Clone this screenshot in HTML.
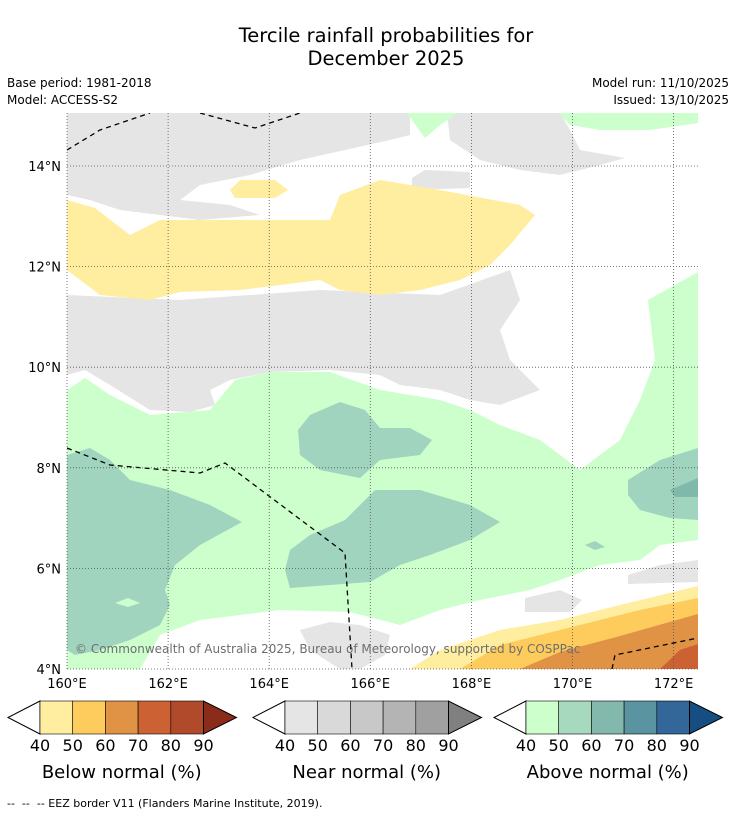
<!DOCTYPE html>
<html><head><meta charset="utf-8">
<style>
body{margin:0;background:#fff;font-family:"Liberation Sans",sans-serif;}
svg text{font-family:"DejaVu Sans","Liberation Sans",sans-serif;}
</style></head>
<body>
<svg id="c" width="736" height="816" xmlns="http://www.w3.org/2000/svg">
<rect width="736" height="816" fill="#fff"/>
<text x="386" y="42" text-anchor="middle" font-size="19.5">Tercile rainfall probabilities for</text>
<text x="386" y="65" text-anchor="middle" font-size="19.5">December 2025</text>
<text x="7" y="87" font-size="12">Base period: 1981-2018</text>
<text x="7" y="104" font-size="12">Model: ACCESS-S2</text>
<text x="729" y="87" font-size="12" text-anchor="end">Model run: 11/10/2025</text>
<text x="729" y="104" font-size="12" text-anchor="end">Issued: 13/10/2025</text>
<defs><clipPath id="mc"><rect x="67" y="113" width="631" height="556"/></clipPath></defs>
<g id="map" clip-path="url(#mc)"></g>
<g id="axes"></g>
<g id="cbars"></g>
<text x="7" y="807" font-size="11" style="white-space:pre">--  --  -- EEZ border V11 (Flanders Marine Institute, 2019).</text>
</svg>
<script>
const lonTicks=[160,162,164,166,168,170,172];
const latTicks=[4,6,8,10,12,14];
const cbLabels=[40,50,60,70,80,90];
const belowColors=["#ffeda0","#fecc5c","#e09245","#cc6233","#b04a2a","#8b2c1a"];
const nearColors=["#e5e5e5","#d9d9d9","#c8c8c8","#b4b4b4","#a0a0a0","#808080"];
const aboveColors=["#ccffcc","#a6d9bd","#83b9ad","#5a94a0","#336699","#174e82"];
const cbTitles=["Below normal (%)","Near normal (%)","Above normal (%)"];
function X(lon){return 67+(lon-160)*50.55;}
function Y(lat){return 669-(lat-4)*50.3;}
const NS="http://www.w3.org/2000/svg";
const map=document.getElementById('map'),axes=document.getElementById('axes'),cb=document.getElementById('cbars');
function poly(parent,pts,fill,name){const p=document.createElementNS(NS,'polygon');p.setAttribute('points',pts.map(a=>a.join(',')).join(' '));p.setAttribute('fill',fill);


parent.appendChild(p);return p;}
const shapes=[
["#ccffcc","above-40-main",[[67,390],[85,378],[110,395],[150,415],[210,410],[235,380],[270,372],[330,372],[380,390],[440,400],[470,410],[500,425],[540,440],[580,470],[620,440],[640,400],[655,360],[648,300],[698,272],[698,540],[660,545],[640,560],[600,565],[560,580],[530,590],[480,600],[440,610],[400,625],[380,640],[380,669],[67,669]]],
["#ffffff","white-bottom",[[140,669],[160,635],[200,620],[280,610],[350,612],[400,625],[420,640],[410,669]]],
["#ffffff","white-right",[[560,582],[620,568],[698,548],[698,592],[640,602],[600,612],[560,615]]],
["#e5e5e5","near-top",[[67,113],[410,113],[410,135],[390,140],[300,160],[250,175],[200,185],[180,200],[230,205],[260,215],[200,220],[160,215],[120,210],[90,200],[67,195]]],
["#e5e5e5","near-top-right",[[447,113],[560,113],[570,130],[580,150],[625,158],[600,165],[560,175],[520,170],[480,160],[450,140]]],
["#e5e5e5","near-small",[[412,178],[425,170],[470,172],[470,188],[412,190]]],
["#e5e5e5","near-middle",[[67,295],[180,300],[320,290],[440,295],[510,270],[520,300],[500,330],[510,360],[540,390],[500,405],[470,400],[440,390],[400,385],[380,375],[330,370],[270,372],[230,380],[210,390],[215,405],[190,412],[150,410],[110,385],[85,370],[67,375]]],
["#e5e5e5","near-bottom",[[300,630],[330,622],[360,625],[390,635],[385,655],[360,669],[340,669],[310,650]]],
["#e5e5e5","near-right-1",[[525,598],[560,590],[582,600],[570,612],[525,612]]],
["#e5e5e5","near-right-2",[[628,575],[660,565],[698,560],[698,582],[628,584]]],
["#ccffcc","above-top-1",[[407,113],[458,113],[440,125],[425,138]]],
["#ccffcc","above-top-2",[[558,113],[698,113],[698,123],[650,130],[600,130],[570,125]]],
["#ffeda0","below-40",[[67,200],[95,208],[130,235],[160,220],[330,220],[340,195],[380,180],[440,190],[520,205],[535,215],[510,245],[490,265],[460,280],[420,290],[380,295],[340,290],[320,280],[240,290],[180,292],[150,300],[100,295],[67,270]]],
["#ffeda0","below-40-small",[[230,190],[240,180],[275,180],[288,190],[275,198],[235,198]]],
["#ffeda0","below-40-bottom",[[410,669],[440,650],[500,630],[560,620],[620,605],[698,586],[698,669]]],
["#fecc5c","below-50",[[460,669],[500,645],[560,630],[640,610],[698,598],[698,669]]],
["#e09245","below-60",[[520,669],[560,652],[620,636],[698,614],[698,669]]],
["#cc6233","below-70",[[660,669],[680,650],[698,644],[698,669]]],
["#a0d4be","above-50-left",[[67,455],[90,448],[110,460],[130,480],[170,490],[210,505],[242,522],[200,545],[175,565],[165,590],[170,605],[160,625],[130,640],[100,650],[75,655],[67,650]]],
["#a0d4be","above-50-center",[[298,430],[310,415],[340,402],[365,410],[380,428],[410,428],[432,440],[420,455],[380,460],[360,478],[320,470],[300,455]]],
["#a0d4be","above-50-south",[[290,550],[310,535],[345,520],[375,490],[420,490],[470,505],[500,522],[470,540],[430,555],[400,565],[370,582],[330,585],[290,588],[285,570]]],
["#a0d4be","above-50-east",[[628,480],[660,460],[698,448],[698,520],[670,518],[640,510],[628,495]]],
["#a0d4be","above-50-tiny",[[585,545],[595,541],[605,547],[595,550]]],
["#80b8aa","above-60-east",[[670,490],[698,478],[698,497],[675,497]]],
["#ccffcc","above-40-patch",[[115,603],[128,598],[140,603],[128,607]]],
];
shapes.forEach(s=>poly(map,s[2],s[0],s[1]));
const eez=[[[67,150],[100,130],[150,113]],[[200,113],[255,128],[300,113]],[[67,448],[110,465],[200,473],[225,463],[345,553],[352,669]],[[612,669],[615,655],[698,638]]];
eez.forEach(l=>{const p=document.createElementNS(NS,'polyline');p.setAttribute('points',l.map(a=>a.join(',')).join(' '));p.setAttribute('fill','none');p.setAttribute('stroke','#000');p.setAttribute('stroke-width','1.3');p.setAttribute('stroke-dasharray','5,4');


map.appendChild(p);});
lonTicks.forEach(v=>{const l=document.createElementNS(NS,'line');l.setAttribute('x1',X(v));l.setAttribute('x2',X(v));l.setAttribute('y1',113);l.setAttribute('y2',669);l.setAttribute('stroke','#555');l.setAttribute('stroke-width','0.8');l.setAttribute('stroke-dasharray','1,2');


axes.appendChild(l);
const t=document.createElementNS(NS,'text');t.setAttribute('x',X(v));t.setAttribute('y',688);t.setAttribute('text-anchor','middle');t.setAttribute('font-size','13');t.textContent=v+'°E';


axes.appendChild(t);});
latTicks.forEach(v=>{const l=document.createElementNS(NS,'line');l.setAttribute('x1',67);l.setAttribute('x2',698);l.setAttribute('y1',Y(v));l.setAttribute('y2',Y(v));l.setAttribute('stroke','#555');l.setAttribute('stroke-width','0.8');l.setAttribute('stroke-dasharray','1,2');


axes.appendChild(l);
const t=document.createElementNS(NS,'text');t.setAttribute('x',61);t.setAttribute('y',Y(v)+5);t.setAttribute('text-anchor','end');t.setAttribute('font-size','13');t.textContent=v+'°N';


axes.appendChild(t);});
const cr=document.createElementNS(NS,'text');cr.setAttribute('x',75);cr.setAttribute('y',653);cr.setAttribute('font-size','12');cr.setAttribute('fill','#6e6e6e');cr.textContent='© Commonwealth of Australia 2025, Bureau of Meteorology, supported by COSPPac';


axes.appendChild(cr);
const bars=[[40,belowColors],[285,nearColors],[526,aboveColors]];
bars.forEach((b,i)=>{const x0=b[0],cols=b[1],w=32.7,y0=701,h=33;
const g=document.createElementNS(NS,'g');


cb.appendChild(g);
poly(g,[[x0,y0],[x0,y0+h],[x0-32,y0+h/2]],'#fff','colorbar-low-extension').setAttribute('stroke','#000');
for(let k=0;k<5;k++){const r=document.createElementNS(NS,'rect');r.setAttribute('x',x0+k*w);r.setAttribute('y',y0);r.setAttribute('width',w);r.setAttribute('height',h);r.setAttribute('fill',cols[k]);r.setAttribute('stroke','#000');r.setAttribute('stroke-width','0.6');


g.appendChild(r);}
const xe=x0+5*w;
poly(g,[[xe,y0],[xe,y0+h],[xe+33,y0+h/2]],cols[5],'colorbar-high-extension').setAttribute('stroke','#000');
cbLabels.forEach((v,k)=>{const t=document.createElementNS(NS,'text');t.setAttribute('x',x0+k*w);t.setAttribute('y',751);t.setAttribute('text-anchor','middle');t.setAttribute('font-size','16');t.textContent=v;


g.appendChild(t);});
const tt=document.createElementNS(NS,'text');tt.setAttribute('x',x0+2.5*w);tt.setAttribute('y',778);tt.setAttribute('text-anchor','middle');tt.setAttribute('font-size','18');tt.textContent=cbTitles[i];


g.appendChild(tt);});
</script>
</body></html>
